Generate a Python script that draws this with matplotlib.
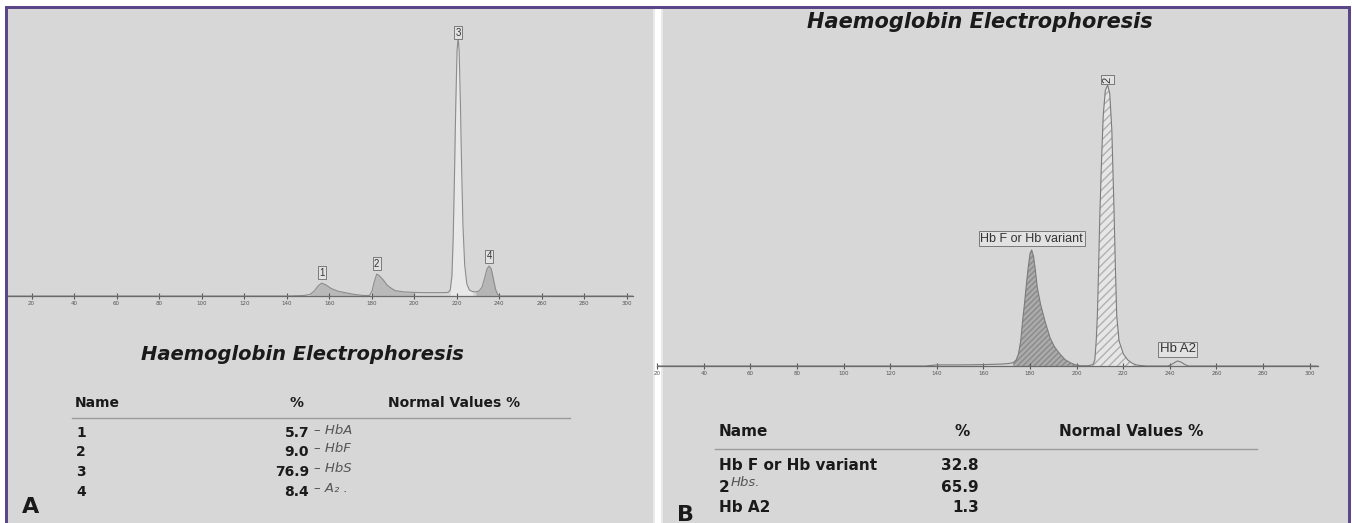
import numpy as np
import matplotlib
matplotlib.use("Agg")
import matplotlib.pyplot as plt
from matplotlib.patches import Rectangle

# ---- data (relative signal, % of tallest peak)
trace_a_x = [8, 140, 148, 151, 153, 154.8, 156.5, 158.5, 161, 164, 168, 172, 176, 179,
             180.2, 181.2, 182.4, 183.6, 185.5, 187.2, 188.7, 191, 195, 200, 205, 210, 214,
             216.0, 217.0, 217.8, 218.4, 219.0, 219.6, 220.2, 220.7, 221.2, 221.8, 222.4,
             223.0, 223.8, 224.8, 226.0, 227.5, 229.0, 230.5, 232.0, 233.2, 234.3, 235.3,
             236.3, 237.3, 238.3, 239.2, 240.0, 303]
trace_a_y = [0, 0, 0.2, 0.6, 1.9, 3.9, 5.0, 4.3, 2.9, 1.9, 1.2, 0.6, 0.2, 0.2,
             1.9, 5.4, 8.5, 7.9, 6.2, 4.3, 3.3, 2.1, 1.6, 1.4, 1.3, 1.3, 1.3,
             1.4, 2.3, 7.8, 23, 47, 74, 95, 100, 95, 74, 48,
             27, 12, 4.7, 2.3, 1.7, 1.6, 1.9, 3.5, 7.0, 10.5, 11.6,
             10.5, 6.6, 2.7, 0.8, 0, 0]
peak_labels_a = ["1", "2", "3", "4"]
peak_pos_a = [156.5, 182.4, 220.7, 235.3]
peak_windows_a = [(150, 177), (179.5, 200), (216.5, 228.5), (229, 240)]

trace_b_x = [20, 135, 140, 150, 160, 168, 171, 172.8, 174, 175, 176, 176.8, 177.6, 178.3,
             179.2, 180.0, 180.7, 181.5, 182.3, 183.1, 184.5, 186.4, 188.6, 190.5, 192.9,
             195, 197.2, 199.5, 201.4, 205, 207, 207.8, 208.4, 208.9, 209.4, 209.9, 210.6,
             211.4, 212.3, 213.3, 214.2, 215.1, 216.0, 216.6, 217.2, 218.2, 220.1, 222.0,
             224.0, 226.0, 230, 239, 240.5, 242, 243.3, 244.8, 246.5, 248, 303.5]
trace_b_y = [0, 0, 0.4, 0.4, 0.5, 0.7, 0.9, 1.2, 2.1, 4.2, 8.9, 16, 22, 28,
             35, 40, 41.3, 39, 34, 28, 22, 16, 10, 6.8, 4.2,
             2.3, 1.2, 0.4, 0.1, 0.1, 0.5, 2.1, 8.9, 18, 34, 52, 71,
             89, 98, 100, 97, 84, 57, 36, 18, 8.9, 4.2, 2.1,
             0.9, 0.3, 0, 0, 0.4, 1.2, 1.8, 1.4, 0.5, 0, 0]
peak_labels_b = ["Hb F or Hb variant", "2", "Hb A2"]
peak_pos_b = [180.7, 213.3, 243.3]
peak_windows_b = [(172, 202), (207, 227)]

ticks = list(range(20, 301, 20))

title = "Haemoglobin Electrophoresis"
headers = ["Name", "%", "Normal Values %"]
table_a_names = ["1", "2", "3", "4"]
table_a_pct = ["5.7", "9.0", "76.9", "8.4"]
table_a_notes = ["– HbA", "– HbF", "– HbS", "– A₂ ."]
table_b_names = ["Hb F or Hb variant", "2", "Hb A2"]
table_b_pct = ["32.8", "65.9", "1.3"]
table_b_note = "Hbs."

# ---- figure
W, H = 1352, 523
GREY = "#d7d7d7"
PURPLE = "#5b4689"
INK = "#1a1a1a"
fig = plt.figure(figsize=(W / 100, H / 100), dpi=100, facecolor="white")


def px_axes(left, top, width, height, **kw):
    return fig.add_axes([left / W, 1 - (top + height) / H, width / W, height / H], **kw)


bg = px_axes(0, 0, W, H)
bg.set_xlim(0, W)
bg.set_ylim(H, 0)
bg.axis("off")
bg.add_patch(Rectangle((7, 9), 648, H, color=GREY, lw=0))
bg.add_patch(Rectangle((661, 9), 687, H, color=GREY, lw=0))
bg.add_patch(Rectangle((653, 9), 2, H, color="#e9e9e9", lw=0))
bg.add_patch(Rectangle((661, 9), 2, H, color="#e9e9e9", lw=0))
bg.add_patch(Rectangle((5, 6), 1346, 3, color=PURPLE, lw=0))
bg.add_patch(Rectangle((5, 6), 2.5, H, color=PURPLE, lw=0))
bg.add_patch(Rectangle((1348, 6), 3, H, color=PURPLE, lw=0))


def style_trace_axes(ax, xlim, ylim):
    ax.set_xlim(*xlim)
    ax.set_ylim(*ylim)
    ax.patch.set_alpha(0)
    for s in ["top", "right", "left"]:
        ax.spines[s].set_visible(False)
    ax.spines["bottom"].set_position(("data", 0))
    ax.spines["bottom"].set_color("#6a6a6a")
    ax.spines["bottom"].set_linewidth(0.9)
    ax.set_yticks([])
    ax.set_xticks(ticks)
    ax.tick_params(axis="x", direction="inout", length=4, width=0.8, colors="#555555",
                   labelsize=4, pad=1.5)


# ---- panel A trace
axa = px_axes(8, 20, 625, 290)
style_trace_axes(axa, (8.9, 303.0), (-5.43, 107.0))
xa = np.array(trace_a_x)
ya = np.array(trace_a_y)
fills_a = ["#b9b9b9", "#b9b9b9", "#e8e8e8", "#b5b5b5"]
for (lo, hi), fc in zip(peak_windows_a, fills_a):
    m = (xa >= lo) & (xa <= hi)
    axa.fill_between(xa[m], ya[m], 0, color=fc, lw=0, zorder=1)
axa.plot(xa, ya, color="#8c8c8c", lw=0.8, zorder=2)
offs = [7.5, 7.5, 4, 7]
for lab, px, off in zip(peak_labels_a, peak_pos_a, offs):
    axa.annotate(lab, xy=(px, np.interp(px, xa, ya)), xytext=(0, off), textcoords="offset points",
                 ha="center", va="center", fontsize=7, color="#333333", family="Liberation Sans",
                 bbox=dict(boxstyle="square,pad=0.15", fc="#e2e2e2", ec="#6a6a6a", lw=0.6))

# ---- panel B trace
axb = px_axes(657, 60, 660.8, 320)
style_trace_axes(axb, (19.9, 303.5), (-4.98, 108.9))
xb = np.array(trace_b_x)
yb = np.array(trace_b_y)
m = (xb >= peak_windows_b[0][0]) & (xb <= peak_windows_b[0][1])
axb.fill_between(xb[m], yb[m], 0, facecolor="#ababab", edgecolor="#8a8a8a", hatch="//////",
                 lw=0, zorder=1)
m = (xb >= peak_windows_b[1][0]) & (xb <= peak_windows_b[1][1])
axb.fill_between(xb[m], yb[m], 0, facecolor="#e6e6e6", edgecolor="#b0b0b0", hatch="////",
                 lw=0, zorder=1)
axb.plot(xb, yb, color="#7c7c7c", lw=0.8, zorder=2)
b_offs = [8, 4, 8.5]
b_rot = [0, 90, 0]
b_size = [9, 8, 9.5]
for lab, px, off, rot, fs in zip(peak_labels_b, peak_pos_b, b_offs, b_rot, b_size):
    axb.annotate(lab, xy=(px, np.interp(px, xb, yb)), xytext=(0, off), textcoords="offset points",
                 ha="center", va="center", fontsize=fs, color="#333333", rotation=rot,
                 family="Liberation Sans",
                 bbox=dict(boxstyle="square,pad=0.12", fc="#e2e2e2", ec="#6a6a6a", lw=0.6))

# ---- panel A text block
bold = dict(fontweight="bold", color=INK, va="center", family="DejaVu Sans")
hand = dict(color="#555555", va="center", fontsize=9.5, family="DejaVu Sans",
            fontstyle="italic", fontweight="light")
bg.text(302, 355, title, ha="center", fontsize=14, fontstyle="italic", **bold)
bg.text(75, 403, headers[0], ha="left", fontsize=10, **bold)
bg.text(296, 403, headers[1], ha="center", fontsize=10, **bold)
bg.text(388, 403, headers[2], ha="left", fontsize=10, **bold)
bg.plot([72, 570], [417.5, 417.5], color="#9a9a9a", lw=1)
rows_a = [433, 452, 472, 492]
for y, n, p, note in zip(rows_a, table_a_names, table_a_pct, table_a_notes):
    bg.text(76, y, n, ha="left", fontsize=10, **bold)
    bg.text(309, y, p, ha="right", fontsize=10, **bold)
    bg.text(314, y - 3, note, ha="left", **hand)
bg.text(22, 507, "A", ha="left", fontsize=16, **bold)

# ---- panel B text block
bg.text(980, 22, title, ha="center", fontsize=15, fontstyle="italic", **bold)
bg.text(719, 432, headers[0], ha="left", fontsize=11, **bold)
bg.text(962, 432, headers[1], ha="center", fontsize=11, **bold)
bg.text(1059, 432, headers[2], ha="left", fontsize=11, **bold)
bg.plot([715, 1257], [449, 449], color="#9a9a9a", lw=1)
rows_b = [465, 487, 508]
for y, n, p in zip(rows_b, table_b_names, table_b_pct):
    bg.text(719, y, n, ha="left", fontsize=11, **bold)
    bg.text(979, y, p, ha="right", fontsize=11, **bold)
bg.text(731, 482, table_b_note, ha="left", **hand)
bg.text(677, 515, "B", ha="left", fontsize=16, **bold)

fig.savefig("out.png", dpi=100, facecolor="white")
